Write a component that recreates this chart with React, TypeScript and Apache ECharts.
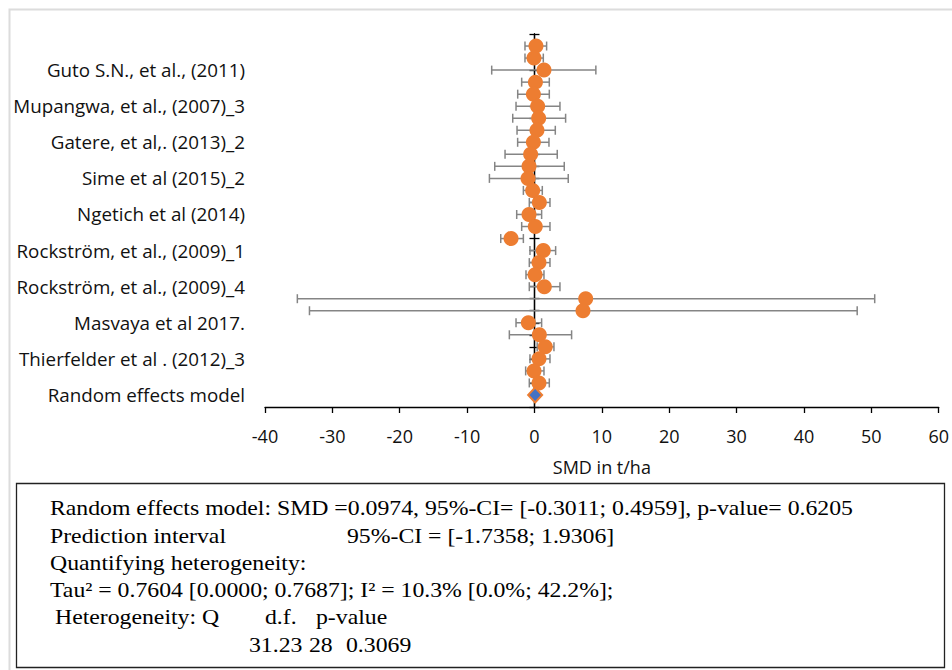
import React, { useEffect, useRef } from "react";
import * as echarts from "echarts";

// Studies listed from top (row 30) to bottom (row 2)
const studyRows = [30, 29, 28, 27, 26, 25, 24, 23, 22, 21, 20, 19, 18, 17, 16, 15, 14, 13, 12, 11, 10, 9, 8, 7, 6, 5, 4, 3, 2];
const smd = [0.22, -0.07, 1.41, 0.14, -0.16, 0.47, 0.62, 0.37, -0.16, -0.57, -0.81, -0.96, -0.27, 0.72, -0.81, 0.12, -3.48, 1.31, 0.67, 0.09, 1.46, 7.6, 7.2, -0.91, 0.72, 1.6, 0.67, -0.07, 0.67];
const lower = [-1.41, -1.41, -6.35, -1.9, -2.49, -2.74, -3.23, -2.59, -2.5, -4.37, -5.9, -6.69, -1.65, -0.77, -2.64, -1.9, -5.01, -0.67, -0.77, -1.26, -0.77, -35.2, -33.4, -2.74, -3.73, 0.4, -0.67, -1.31, -0.77];
const upper = [1.8, 1.31, 9.11, 2.2, 2.2, 3.78, 4.62, 3.09, 2.15, 3.38, 4.42, 5.01, 1.16, 2.3, 1.06, 2.3, -1.65, 3.14, 2.3, 1.41, 3.78, 50.5, 47.9, 1.06, 5.51, 2.89, 2.3, 1.41, 2.2];

// Random effects model
const reRow = 1;
const reSmd = 0.0974;
const reLower = -0.3011;
const reUpper = 0.4959;

// Axis labels (shown on every third row)
const labelRows = [28, 25, 22, 19, 16, 13, 10, 7, 4, 1];
const labelNames = [
  "Guto S.N., et al., (2011)",
  "Mupangwa, et al., (2007)_3",
  "Gatere, et al,. (2013)_2",
  "Sime et al (2015)_2",
  "Ngetich et al (2014)",
  "Rockström, et al., (2009)_1",
  "Rockström, et al., (2009)_4",
  "Masvaya et al 2017.",
  "Thierfelder et al . (2012)_3",
  "Random effects model",
];

const xMin = -40;
const xMax = 60;
const xInterval = 10;
const yMin = 0;
const yMax = 31;

const SERIF = "'Liberation Serif', 'Times New Roman', serif";
const SANS = "'Open Sans', sans-serif";

export default function App() {
  const ref = useRef<HTMLDivElement>(null);

  useEffect(() => {
    if (!ref.current) return;
    const chart = echarts.init(ref.current, null, { renderer: "svg" });

    const errData = studyRows.map((r, i) => [lower[i], upper[i], r]);
    errData.push([reLower, reUpper, reRow]);
    const dotData = studyRows.map((r, i) => [smd[i], r]);

    const barStyle = { stroke: "#858585", lineWidth: 1.5 };

    const textLine = (x: number, y: number, t: string) => ({
      type: "text",
      x,
      y,
      scaleX: 1.08,
      style: {
        text: t,
        font: `22px ${SERIF}`,
        fill: "#000",
        textVerticalAlign: "middle",
        textAlign: "left",
      },
    });

    const zeroAxis = (inside: boolean) => ({
      type: "value",
      min: yMin,
      max: yMax,
      interval: 1,
      position: "left",
      axisLine: { show: true, onZero: true, onZeroAxisIndex: 0, lineStyle: { color: "#000", width: 1.3 } },
      axisTick: { show: true, inside, length: 5, lineStyle: { color: "#000", width: 1.3 } },
      axisLabel: { show: false },
      splitLine: { show: false },
    });

    const option: any = {
      animation: false,
      backgroundColor: "#fff",
      grid: { left: 265, right: 11, top: 34, bottom: 263, containLabel: false },
      xAxis: {
        type: "value",
        min: xMin,
        max: xMax,
        interval: xInterval,
        name: "SMD in t/ha",
        nameLocation: "middle",
        nameGap: 51,
        nameTextStyle: { fontFamily: SANS, fontSize: 18, color: "#111" },
        axisLine: { onZero: false, lineStyle: { color: "#000", width: 1.3 } },
        axisTick: { show: true, length: 6, lineStyle: { color: "#000", width: 1.3 } },
        axisLabel: { fontFamily: SANS, fontSize: 18, color: "#111", margin: 20 },
        splitLine: { show: false },
      },
      yAxis: [
        {
          type: "value",
          min: yMin,
          max: yMax,
          interval: 1,
          position: "left",
          axisLine: { show: false, onZero: false },
          axisTick: { show: false },
          splitLine: { show: false },
          axisLabel: {
            fontFamily: SANS,
            fontSize: 18.8,
            color: "#111",
            margin: 20,
            formatter: (v: number) => {
              const k = labelRows.indexOf(v);
              return k >= 0 ? labelNames[k] : "";
            },
          },
        },
        zeroAxis(false),
        zeroAxis(true),
      ],
      series: [
        {
          type: "custom",
          yAxisIndex: 0,
          z: 3,
          data: errData,
          encode: { x: [0, 1], y: 2 },
          renderItem: (_p: any, api: any) => {
            const y = api.value(2);
            const a = api.coord([api.value(0), y]);
            const b = api.coord([api.value(1), y]);
            return {
              type: "group",
              children: [
                { type: "line", shape: { x1: a[0], y1: a[1], x2: b[0], y2: b[1] }, style: barStyle },
                { type: "line", shape: { x1: a[0], y1: a[1] - 4.5, x2: a[0], y2: a[1] + 4.5 }, style: barStyle },
                { type: "line", shape: { x1: b[0], y1: b[1] - 4.5, x2: b[0], y2: b[1] + 4.5 }, style: barStyle },
              ],
            };
          },
        },
        {
          type: "scatter",
          yAxisIndex: 0,
          z: 4,
          symbol: "circle",
          symbolSize: 15,
          itemStyle: { color: "#ED7D31", opacity: 1 },
          data: dotData,
        },
        {
          type: "scatter",
          yAxisIndex: 0,
          z: 5,
          symbol: "diamond",
          symbolSize: [14, 15],
          itemStyle: { color: "#4472C4", borderColor: "#ED7D31", borderWidth: 2, opacity: 1 },
          data: [[reSmd, reRow]],
        },
      ],
      graphic: [
        {
          type: "rect",
          z: -10,
          shape: { x: 9.5, y: 9.5, width: 980, height: 700 },
          style: { fill: "none", stroke: "#dcdcdc", lineWidth: 2 },
        },
        {
          type: "rect",
          shape: { x: 16.5, y: 483.5, width: 928, height: 184 },
          style: { fill: "#fff", stroke: "#222", lineWidth: 1.3 },
        },
        textLine(50, 508, "Random effects model: SMD =0.0974, 95%-CI= [-0.3011; 0.4959], p-value= 0.6205"),
        textLine(50, 536, "Prediction interval"),
        textLine(347, 536, "95%-CI = [-1.7358; 1.9306]"),
        textLine(50, 563, "Quantifying heterogeneity:"),
        textLine(50, 590, "Tau² = 0.7604 [0.0000; 0.7687]; I² = 10.3% [0.0%; 42.2%];"),
        textLine(55, 617, "Heterogeneity: Q"),
        textLine(265, 617, "d.f."),
        textLine(316, 617, "p-value"),
        textLine(249, 645, "31.23"),
        textLine(309, 645, "28"),
        textLine(346, 645, "0.3069"),
      ],
    };

    chart.setOption(option);
    return () => chart.dispose();
  }, []);

  return (
    <div
      ref={ref}
      style={{ position: "fixed", left: 0, top: 0, width: 952, height: 670, background: "#fff" }}
    />
  );
}
